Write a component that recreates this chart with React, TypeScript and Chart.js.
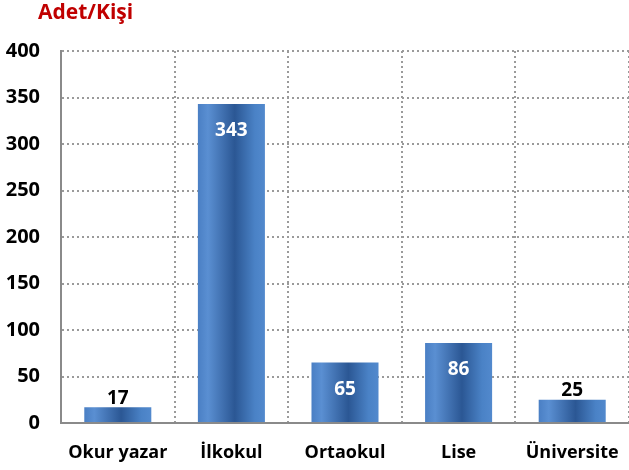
import React, { useEffect, useRef } from "react";
import { Chart, registerables } from "chart.js";

Chart.register(...registerables);

const categories = ["Okur yazar", "İlkokul", "Ortaokul", "Lise", "Üniversite"];
const values = [17, 343, 65, 86, 25];
const yTicks = [0, 50, 100, 150, 200, 250, 300, 350, 400];
const unitTitle = "Adet/Kişi";

const FONT = "'Open Sans', 'Liberation Sans', sans-serif";
const BAR_PCT = 0.59;
const GRID = "#9a9a9a";

const labelPlugin = {
  id: "barLabels",
  afterDatasetsDraw(chart: any) {
    const ctx = chart.ctx;
    const meta = chart.getDatasetMeta(0);
    ctx.save();
    ctx.font = `700 19px ${FONT}`;
    ctx.textAlign = "center";
    ctx.textBaseline = "middle";
    meta.data.forEach((el: any, i: number) => {
      const v = values[i];
      const inside = v >= 50;
      ctx.fillStyle = inside ? "#ffffff" : "#000000";
      const y = inside ? el.y + 27 : el.y - 9;
      ctx.fillText(String(v), el.x, y);
    });
    ctx.restore();
  },
  afterDraw(chart: any) {
    const ctx = chart.ctx;
    ctx.save();
    ctx.font = `700 21px ${FONT}`;
    ctx.fillStyle = "#C00000";
    ctx.textAlign = "left";
    ctx.textBaseline = "middle";
    ctx.fillText(unitTitle, 38, 13);
    ctx.restore();
  },
};

export default function App() {
  const ref = useRef<HTMLCanvasElement | null>(null);
  useEffect(() => {
    if (!ref.current) return;
    const chart = new Chart(ref.current, {
      type: "bar",
      data: {
        labels: categories,
        datasets: [
          {
            data: values,
            categoryPercentage: 1,
            barPercentage: BAR_PCT,
            borderWidth: 0,
            backgroundColor: (c: any) => {
              const ch = c.chart;
              const area = ch.chartArea;
              const xs = ch.scales && ch.scales.x;
              if (!area || !xs || c.dataIndex === undefined) return "#3a6db0";
              const cx = xs.getPixelForValue(c.dataIndex);
              const w = ((area.right - area.left) / categories.length) * BAR_PCT;
              const g = ch.ctx.createLinearGradient(cx - w / 2, 0, cx + w / 2, 0);
              g.addColorStop(0, "#4a7fc4");
              g.addColorStop(0.15, "#5a8fd2");
              g.addColorStop(0.55, "#2b5794");
              g.addColorStop(0.85, "#4a82c6");
              g.addColorStop(1, "#5289cd");
              return g;
            },
          },
        ],
      },
      options: {
        animation: false,
        responsive: true,
        maintainAspectRatio: false,
        layout: { padding: { top: 51, left: 0, right: 0, bottom: 0 } },
        plugins: { legend: { display: false }, tooltip: { enabled: false } },
        scales: {
          x: {
            offset: true,
            afterFit: (s: any) => {
              s.height = 47;
              s.paddingLeft = 0;
              s.paddingRight = 0;
            },
            grid: {
              offset: true,
              color: (c: any) =>
                c.index === 0 || c.index === categories.length ? "rgba(0,0,0,0)" : GRID,
              lineWidth: 2,
              drawTicks: false,
            },
            border: { display: true, color: "#8a8a8a", width: 2, dash: [2, 3] },
            ticks: { color: "#000", padding: 19, maxRotation: 0, font: { family: FONT, size: 18, weight: "bold" } },
          },
          y: {
            min: 0,
            max: 400,
            afterFit: (s: any) => {
              s.width = 61;
            },
            afterBuildTicks: (s: any) => {
              s.ticks = yTicks.map((v) => ({ value: v }));
            },
            grid: { color: GRID, lineWidth: 2, drawTicks: false },
            border: { display: true, color: "#8a8a8a", width: 2, dash: [2, 3] },
            ticks: { color: "#000", padding: 21, font: { family: FONT, size: 20, weight: "bold" } },
          },
        },
      },
      plugins: [labelPlugin],
    } as any);
    return () => chart.destroy();
  }, []);
  return (
    <div style={{ position: "fixed", left: 0, top: 0, width: 629, height: 470 }}>
      <canvas ref={ref} />
    </div>
  );
}
